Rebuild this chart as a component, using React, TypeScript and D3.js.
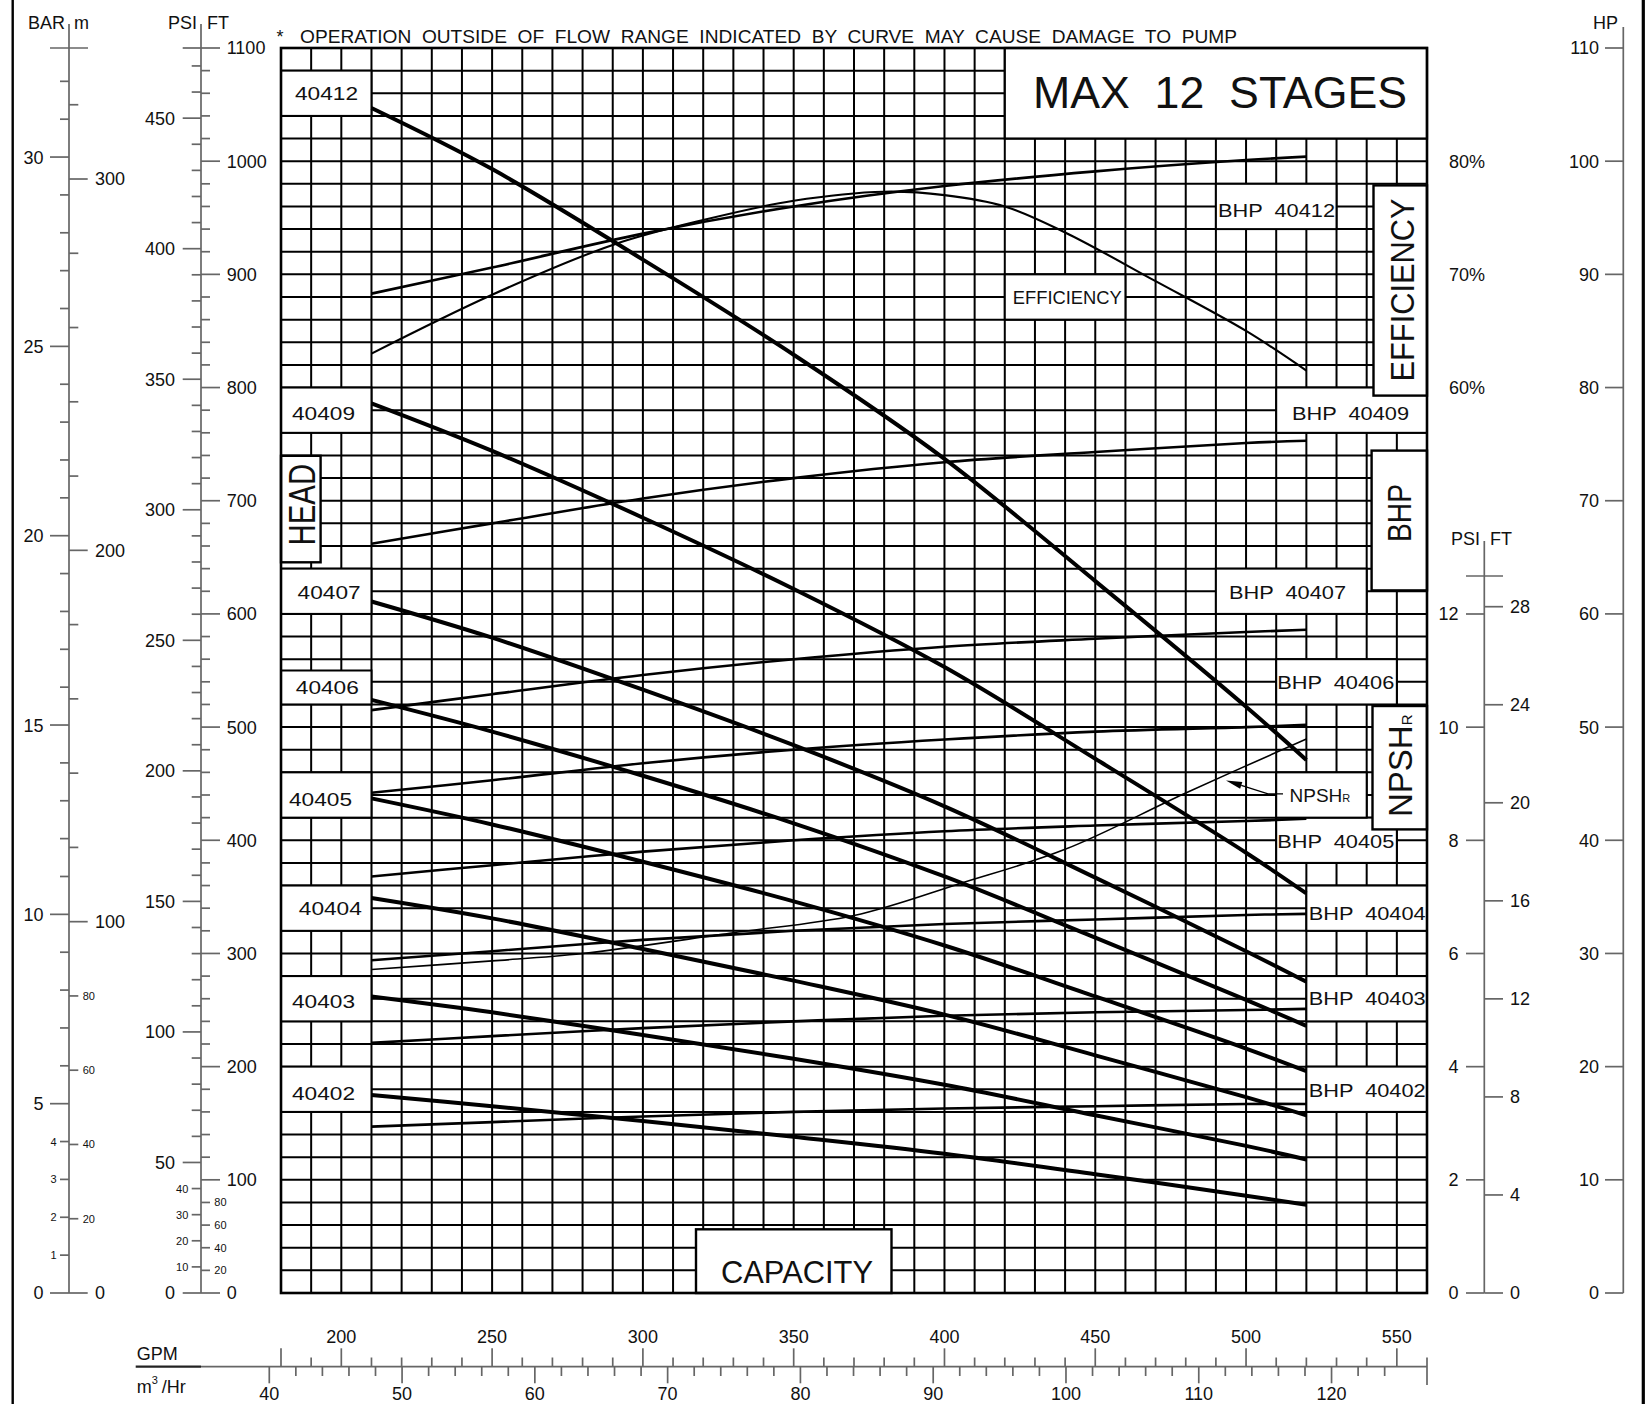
import React from "react";
import * as d3 from "d3";

const W = 1647;
const H = 1404;
const PL = 281;
const PR = 1427;
const PT = 48;
const PB = 1293;

// ---------------- data ----------------
const flowGpm = [210, 250, 300, 350, 400, 450, 500, 520];
const modelNames = ["40412", "40409", "40407", "40406", "40405", "40404", "40403", "40402"];

const head40412 = [1047, 993, 913, 829, 737, 629, 518, 471];
const head40409 = [786, 744, 685, 622, 553, 472, 389, 353];
const head40407 = [611, 579, 533, 484, 430, 367, 302, 275];
const head40406 = [524, 496, 457, 415, 368, 314, 259, 236];
const head40405 = [437, 414, 381, 346, 307, 262, 216, 196];
const head40404 = [349, 331, 304, 276, 246, 210, 173, 157];
const head40403 = [262, 248, 228, 207, 184, 157, 130, 118];
const head40402 = [175, 165, 152, 138, 123, 105, 86, 78];

const bhp40412 = [88.3, 90.6, 93.6, 96.0, 97.8, 99.1, 100.1, 100.4];
const bhp40409 = [66.2, 68.0, 70.2, 72.0, 73.4, 74.3, 75.1, 75.3];
const bhp40407 = [51.5, 52.9, 54.6, 56.0, 57.1, 57.8, 58.4, 58.6];
const bhp40406 = [44.2, 45.3, 46.8, 48.0, 48.9, 49.6, 50.0, 50.2];
const bhp40405 = [36.8, 37.8, 39.0, 40.0, 40.8, 41.3, 41.7, 41.9];
const bhp40404 = [29.4, 30.2, 31.2, 32.0, 32.6, 33.0, 33.4, 33.5];
const bhp40403 = [22.1, 22.7, 23.4, 24.0, 24.5, 24.8, 25.0, 25.1];
const bhp40402 = [14.7, 15.1, 15.6, 16.0, 16.3, 16.5, 16.7, 16.7];

const effFlow = [210, 250, 290, 320, 350, 380, 400, 420, 440, 470, 500, 520];
const effValues = [63.0, 68.2, 72.6, 74.8, 76.5, 77.3, 77.0, 76.0, 73.7, 69.4, 65.0, 61.5];

const npshFlow = [210, 250, 280, 330, 370, 405, 440, 480, 520];
const npshValues = [13.2, 13.55, 13.85, 14.7, 15.4, 16.7, 18.1, 20.4, 22.6];

const gpmTickLabels = [200, 250, 300, 350, 400, 450, 500, 550];
const m3hrTickLabels = [40, 50, 60, 70, 80, 90, 100, 110, 120];
const barLabels = [0, 5, 10, 15, 20, 25, 30];
const barSmallLabels = [1, 2, 3, 4];
const meterLabels = [0, 100, 200, 300];
const meterSmallLabels = [20, 40, 60, 80];
const psiLabels = [0, 50, 100, 150, 200, 250, 300, 350, 400, 450];
const psiSmallLabels = [10, 20, 30, 40];
const ftLabels = [0, 100, 200, 300, 400, 500, 600, 700, 800, 900, 1000, 1100];
const ftSmallLabels = [20, 40, 60, 80];
const hpLabels = [0, 10, 20, 30, 40, 50, 60, 70, 80, 90, 100, 110];
const effLabels = [60, 70, 80];
const npshPsiLabels = [0, 2, 4, 6, 8, 10, 12];
const npshFtLabels = [0, 4, 8, 12, 16, 20, 24, 28];

const headSeries = [head40412, head40409, head40407, head40406, head40405, head40404, head40403, head40402];
const bhpSeries = [bhp40412, bhp40409, bhp40407, bhp40406, bhp40405, bhp40404, bhp40403, bhp40402];

// ---------------- layout ----------------
const headLabelLayout = [
  { box: [180, 210, 1040, 1080], tx: 295, ty: 100.3 },
  { box: [180, 210, 760, 800], tx: 292, ty: 419.7 },
  { box: [180, 210, 600, 640], tx: 297.6, ty: 598.5 },
  { box: [180, 210, 520, 550], tx: 295.8, ty: 693.5 },
  { box: [180, 210, 420, 460], tx: 289, ty: 806 },
  { box: [180, 210, 320, 360], tx: 298.8, ty: 915 },
  { box: [180, 210, 240, 280], tx: 292, ty: 1007.8 },
  { box: [180, 210, 160, 200], tx: 292, ty: 1100 },
];
const bhpLabelLayout = [
  { box: [490, 530, 940, 980], tx: 1218, ty: 216.8 },
  { box: [510, 560, 760, 800], tx: 1292, ty: 419.7 },
  { box: [490, 540, 600, 640], tx: 1229, ty: 599.3 },
  { box: [510, 550, 520, 560], tx: 1277.3, ty: 689.4 },
  { box: [510, 550, 380, 420], tx: 1277.3, ty: 847.8 },
  { box: [520, 560, 320, 360], tx: 1308.7, ty: 920 },
  { box: [520, 560, 240, 280], tx: 1308.7, ty: 1004.9 },
  { box: [520, 560, 160, 200], tx: 1308.7, ty: 1096.7 },
];

const FONT = "'Liberation Sans', Arial, sans-serif";
const INK = "#111";
const AX = "#666";
const NUM = 18;

const x = d3.scaleLinear().domain([180, 560]).range([PL, PR]);
const yFt = d3.scaleLinear().domain([0, 1100]).range([PB, PT]);
const yHp = d3.scaleLinear().domain([0, 110]).range([PB, PT]);
const yPsi = d3.scaleLinear().domain([0, 1100 / 2.3067]).range([PB, PT]);
const yBar = d3.scaleLinear().domain([0, 1100 / 33.455]).range([PB, PT]);
const yM = d3.scaleLinear().domain([0, 1100 / 3.28084]).range([PB, PT]);
const yNpshFt = d3.scaleLinear().domain([0, 28]).range([PB, 606.7]);
const yNpshPsi = d3.scaleLinear().domain([0, 12]).range([PB, 614]);
const xM3 = d3.scaleLinear().domain([0, 1]).range([x(0), x(4.4029)]);

function T(props: any) {
  const { children, ...rest } = props;
  return (
    <text fontFamily={FONT} fill={INK} {...rest}>
      {children}
    </text>
  );
}

export default function App() {
  const line = d3
    .line<[number, number]>()
    .x((d) => d[0])
    .y((d) => d[1])
    .curve(d3.curveCatmullRom.alpha(0.5));

  const vGrid = d3.range(180, 561, 10);
  const hGrid = d3.range(0, 1101, 20);

  const boxRect = (b: number[]) => ({
    x: x(b[0]),
    y: yFt(b[3]),
    width: x(b[1]) - x(b[0]),
    height: yFt(b[2]) - yFt(b[3]),
  });

  // arrow for NPSHr leader
  const tip: [number, number] = [1226, 780.5];
  const from: [number, number] = [1268, 793.9];
  const dx = tip[0] - from[0];
  const dy = tip[1] - from[1];
  const len = Math.hypot(dx, dy);
  const ux = dx / len;
  const uy = dy / len;
  const bx = tip[0] - ux * 16;
  const by = tip[1] - uy * 16;
  const arrow = `M${tip[0]},${tip[1]}L${bx - uy * 3.6},${by + ux * 3.6}L${bx + uy * 3.6},${by - ux * 3.6}Z`;

  return (
    <div style={{ position: "absolute", left: 0, top: 0 }}>
      <svg width={W} height={H} style={{ display: "block", background: "#fff" }}>
        <rect x={0} y={0} width={W} height={H} fill="#fff" />
        {/* outer borders */}
        <line x1={12.7} x2={12.7} y1={0} y2={H} stroke="#000" strokeWidth={2.4} />
        <line x1={1643.3} x2={1643.3} y1={0} y2={H} stroke="#000" strokeWidth={3.2} />

        {/* grid */}
        {vGrid.map((g) => (
          <line key={"v" + g} x1={x(g)} x2={x(g)} y1={PT} y2={PB} stroke="#000" strokeWidth={2} />
        ))}
        {hGrid.map((f) => (
          <line key={"h" + f} x1={PL} x2={PR} y1={yFt(f)} y2={yFt(f)} stroke="#000" strokeWidth={2} />
        ))}

        {/* white label boxes */}
        {headLabelLayout.map((l, i) => (
          <rect key={"hb" + i} {...boxRect(l.box)} fill="#fff" stroke="#000" strokeWidth={2} />
        ))}
        {bhpLabelLayout.map((l, i) => (
          <rect key={"bb" + i} {...boxRect(l.box)} fill="#fff" stroke="#000" strokeWidth={2} />
        ))}
        <rect {...boxRect([420, 560, 1020, 1100])} fill="#fff" stroke="#000" strokeWidth={2.2} />
        <rect {...boxRect([420, 460, 860, 900])} fill="#fff" stroke="#000" strokeWidth={2} />
        <rect {...boxRect([510, 540, 420, 460])} fill="#fff" stroke="#000" strokeWidth={2} />
        {/* bordered title boxes */}
        <rect x={1373.5} y={185.4} width={PR - 1373.5} height={395.6 - 185.4} fill="#fff" stroke="#000" strokeWidth={2.4} />
        <rect x={1371.6} y={450.6} width={PR - 1371.6} height={590.4 - 450.6} fill="#fff" stroke="#000" strokeWidth={2.4} />
        <rect x={1372.5} y={706} width={PR - 1372.5} height={829.4 - 706} fill="#fff" stroke="#000" strokeWidth={2.4} />
        <rect x={PL} y={455.8} width={320.6 - PL} height={562.3 - 455.8} fill="#fff" stroke="#000" strokeWidth={2.4} />
        <rect x={696} y={1229.3} width={891.5 - 696} height={PB - 1229.3} fill="#fff" stroke="#000" strokeWidth={2.4} />

        {/* plot border */}
        <rect x={PL} y={PT} width={PR - PL} height={PB - PT} fill="none" stroke="#000" strokeWidth={2.6} />

        {/* BHP curves */}
        {bhpSeries.map((s, i) => (
          <path
            key={"bhp" + i}
            d={line(flowGpm.map((g, j) => [x(g), yHp(s[j])]))!}
            fill="none"
            stroke="#000"
            strokeWidth={2.6}
          />
        ))}
        {/* efficiency */}
        <path
          d={line(effFlow.map((g, j) => [x(g), yHp(effValues[j] + 20)]))!}
          fill="none"
          stroke="#000"
          strokeWidth={2.1}
        />
        {/* NPSHr */}
        <path
          d={line(npshFlow.map((g, j) => [x(g), yNpshFt(npshValues[j])]))!}
          fill="none"
          stroke="#000"
          strokeWidth={1.6}
        />
        {/* head curves */}
        {headSeries.map((s, i) => (
          <path
            key={"head" + i}
            d={line(flowGpm.map((g, j) => [x(g), yFt(s[j])]))!}
            fill="none"
            stroke="#000"
            strokeWidth={4}
          />
        ))}

        {/* NPSHr leader */}
        <polyline
          points={`1283,${from[1]} ${from[0]},${from[1]} ${bx},${by}`}
          fill="none"
          stroke="#000"
          strokeWidth={1.4}
        />
        <path d={arrow} fill="#000" />

        {/* curve labels */}
        {headLabelLayout.map((l, i) => (
          <T key={"hl" + i} x={l.tx} y={l.ty} fontSize={19} textLength={63} lengthAdjust="spacingAndGlyphs">
            {modelNames[i]}
          </T>
        ))}
        {bhpLabelLayout.map((l, i) => (
          <T key={"bl" + i} x={l.tx} y={l.ty} fontSize={19} textLength={117} lengthAdjust="spacingAndGlyphs" xmlSpace="preserve">
            {"BHP  " + modelNames[i]}
          </T>
        ))}
        <T x={1012.8} y={304} fontSize={19} textLength={109} lengthAdjust="spacingAndGlyphs">
          EFFICIENCY
        </T>
        <T x={1289.5} y={802} fontSize={19}>
          NPSH<tspan fontSize={11}>R</tspan>
        </T>

        {/* big titles */}
        <T x={1033} y={108.3} fontSize={44} textLength={374} lengthAdjust="spacingAndGlyphs" xmlSpace="preserve">
          {"MAX  12  STAGES"}
        </T>
        <T x={721} y={1283.3} fontSize={32} textLength={152} lengthAdjust="spacingAndGlyphs">
          CAPACITY
        </T>
        <g transform="translate(315,545.4) rotate(-90)">
          <T x={0} y={0} fontSize={36} textLength={81.5} lengthAdjust="spacingAndGlyphs">
            HEAD
          </T>
        </g>
        <g transform="translate(1414,381.5) rotate(-90)">
          <T x={0} y={0} fontSize={33} textLength={183} lengthAdjust="spacingAndGlyphs">
            EFFICIENCY
          </T>
        </g>
        <g transform="translate(1410.5,542) rotate(-90)">
          <T x={0} y={0} fontSize={33} textLength={58} lengthAdjust="spacingAndGlyphs">
            BHP
          </T>
        </g>
        <g transform="translate(1412,817) rotate(-90)">
          <T x={0} y={0} fontSize={33}>
            NPSH<tspan fontSize={15}>R</tspan>
          </T>
        </g>

        {/* top note */}
        <T x={276.5} y={43.3} fontSize={18}>
          *
        </T>
        <T x={300} y={43.3} fontSize={18.5} textLength={937} lengthAdjust="spacingAndGlyphs" xmlSpace="preserve">
          {"OPERATION  OUTSIDE  OF  FLOW  RANGE  INDICATED  BY  CURVE  MAY  CAUSE  DAMAGE  TO  PUMP"}
        </T>

        {/* ---- BAR / m axis ---- */}
        <T x={65} y={29} fontSize={18} textAnchor="end">
          BAR
        </T>
        <T x={74} y={29} fontSize={18}>
          m
        </T>
        <line x1={69} x2={69} y1={24} y2={PB} stroke={AX} strokeWidth={1.7} />
        <line x1={50} x2={88} y1={PT} y2={PT} stroke={AX} strokeWidth={1.7} />
        {d3.range(0, 33).map((b) => {
          const y = yBar(b);
          const major = b % 5 === 0;
          return <line key={"bt" + b} x1={major ? 50 : 60} x2={69} y1={y} y2={y} stroke={AX} strokeWidth={1.7} />;
        })}
        {barLabels.map((b) => (
          <T key={"bl" + b} x={43.5} y={yBar(b)} dy="0.36em" fontSize={NUM} textAnchor="end">
            {b}
          </T>
        ))}
        {barSmallLabels.map((b) => (
          <T key={"bs" + b} x={56.5} y={yBar(b)} dy="0.36em" fontSize={11} textAnchor="end">
            {b}
          </T>
        ))}
        {d3.range(0, 321, 20).map((m) => {
          const y = yM(m);
          const major = m % 100 === 0;
          return <line key={"mt" + m} x1={69} x2={major ? 87.7 : 78.3} y1={y} y2={y} stroke={AX} strokeWidth={1.7} />;
        })}
        {meterLabels.map((m) => (
          <T key={"ml" + m} x={95} y={yM(m)} dy="0.36em" fontSize={NUM}>
            {m}
          </T>
        ))}
        {meterSmallLabels.map((m) => (
          <T key={"ms" + m} x={82.7} y={yM(m)} dy="0.36em" fontSize={11}>
            {m}
          </T>
        ))}

        {/* ---- PSI / FT axis ---- */}
        <T x={197} y={29} fontSize={18} textAnchor="end">
          PSI
        </T>
        <T x={207} y={29} fontSize={18}>
          FT
        </T>
        <line x1={201} x2={201} y1={24} y2={PB} stroke={AX} strokeWidth={1.7} />
        <line x1={182.7} x2={201} y1={PT} y2={PT} stroke={AX} strokeWidth={1.7} />
        {d3.range(0, 471, 10).map((p) => {
          const y = yPsi(p);
          const major = p % 50 === 0;
          return <line key={"pt" + p} x1={major ? 182.7 : 191.7} x2={201} y1={y} y2={y} stroke={AX} strokeWidth={1.7} />;
        })}
        {psiLabels.map((p) => (
          <T key={"pl" + p} x={175} y={yPsi(p)} dy="0.36em" fontSize={NUM} textAnchor="end">
            {p}
          </T>
        ))}
        {psiSmallLabels.map((p) => (
          <T key={"ps" + p} x={188.3} y={yPsi(p)} dy="0.36em" fontSize={11} textAnchor="end">
            {p}
          </T>
        ))}
        {d3.range(0, 1101, 20).map((f) => {
          const y = yFt(f);
          const major = f % 100 === 0;
          return <line key={"ft" + f} x1={201} x2={major ? 220 : 210} y1={y} y2={y} stroke={AX} strokeWidth={1.7} />;
        })}
        {ftLabels.map((f) => (
          <T key={"fl" + f} x={226.7} y={yFt(f)} dy="0.36em" fontSize={NUM}>
            {f}
          </T>
        ))}
        {ftSmallLabels.map((f) => (
          <T key={"fs" + f} x={214.3} y={yFt(f)} dy="0.36em" fontSize={11}>
            {f}
          </T>
        ))}

        {/* ---- HP axis + efficiency labels ---- */}
        <T x={1618} y={29} fontSize={18} textAnchor="end">
          HP
        </T>
        <line x1={1623.3} x2={1623.3} y1={27} y2={PB} stroke={AX} strokeWidth={1.7} />
        {hpLabels.map((h) => (
          <g key={"hp" + h}>
            <line x1={1605} x2={1623.3} y1={yHp(h)} y2={yHp(h)} stroke={AX} strokeWidth={1.7} />
            <T x={1599} y={yHp(h)} dy="0.36em" fontSize={NUM} textAnchor="end">
              {h}
            </T>
          </g>
        ))}
        {effLabels.map((e) => (
          <T key={"ef" + e} x={1449} y={yHp(e + 20)} dy="0.36em" fontSize={NUM}>
            {e + "%"}
          </T>
        ))}

        {/* ---- NPSH axis ---- */}
        <T x={1480} y={545} fontSize={18} textAnchor="end">
          PSI
        </T>
        <T x={1490} y={545} fontSize={18}>
          FT
        </T>
        <line x1={1484.3} x2={1484.3} y1={541} y2={PB} stroke={AX} strokeWidth={1.7} />
        <line x1={1466} x2={1503} y1={576} y2={576} stroke={AX} strokeWidth={1.7} />
        {npshPsiLabels.map((p) => (
          <g key={"np" + p}>
            <line x1={1466} x2={1484.3} y1={yNpshPsi(p)} y2={yNpshPsi(p)} stroke={AX} strokeWidth={1.7} />
            <T x={1458.5} y={yNpshPsi(p)} dy="0.36em" fontSize={NUM} textAnchor="end">
              {p}
            </T>
          </g>
        ))}
        {npshFtLabels.map((f) => (
          <g key={"nf" + f}>
            <line x1={1484.3} x2={1503} y1={yNpshFt(f)} y2={yNpshFt(f)} stroke={AX} strokeWidth={1.7} />
            <T x={1510} y={yNpshFt(f)} dy="0.36em" fontSize={NUM}>
              {f}
            </T>
          </g>
        ))}

        {/* ---- bottom capacity axes ---- */}
        <line x1={201} x2={PR} y1={1366.7} y2={1366.7} stroke={AX} strokeWidth={1.7} />
        <line x1={135.7} x2={201} y1={1366.7} y2={1366.7} stroke="#222" strokeWidth={2.2} />
        <T x={136.7} y={1360} fontSize={18}>
          GPM
        </T>
        <T x={136.7} y={1393.3} fontSize={18}>
          m<tspan fontSize={11} dy={-9}>3</tspan>
          <tspan dy={9} dx={4}>/Hr</tspan>
        </T>
        {d3.range(180, 561, 10).map((g) => {
          const major = g % 50 === 0 || g === 180;
          return (
            <line
              key={"gt" + g}
              x1={x(g)}
              x2={x(g)}
              y1={major ? 1348.3 : 1357.5}
              y2={g === 560 ? 1385 : 1366.7}
              stroke={AX}
              strokeWidth={1.7}
            />
          );
        })}
        {gpmTickLabels.map((g) => (
          <T key={"gl" + g} x={x(g)} y={1343.3} fontSize={NUM} textAnchor="middle">
            {g}
          </T>
        ))}
        {d3.range(40, 125, 2).map((m) => (
          <line
            key={"m3t" + m}
            x1={xM3(m)}
            x2={xM3(m)}
            y1={1366.7}
            y2={m % 10 === 0 ? 1383.3 : 1376}
            stroke={AX}
            strokeWidth={1.7}
          />
        ))}
        {m3hrTickLabels.map((m) => (
          <T key={"m3l" + m} x={xM3(m)} y={1400} fontSize={NUM} textAnchor="middle">
            {m}
          </T>
        ))}
      </svg>
    </div>
  );
}
